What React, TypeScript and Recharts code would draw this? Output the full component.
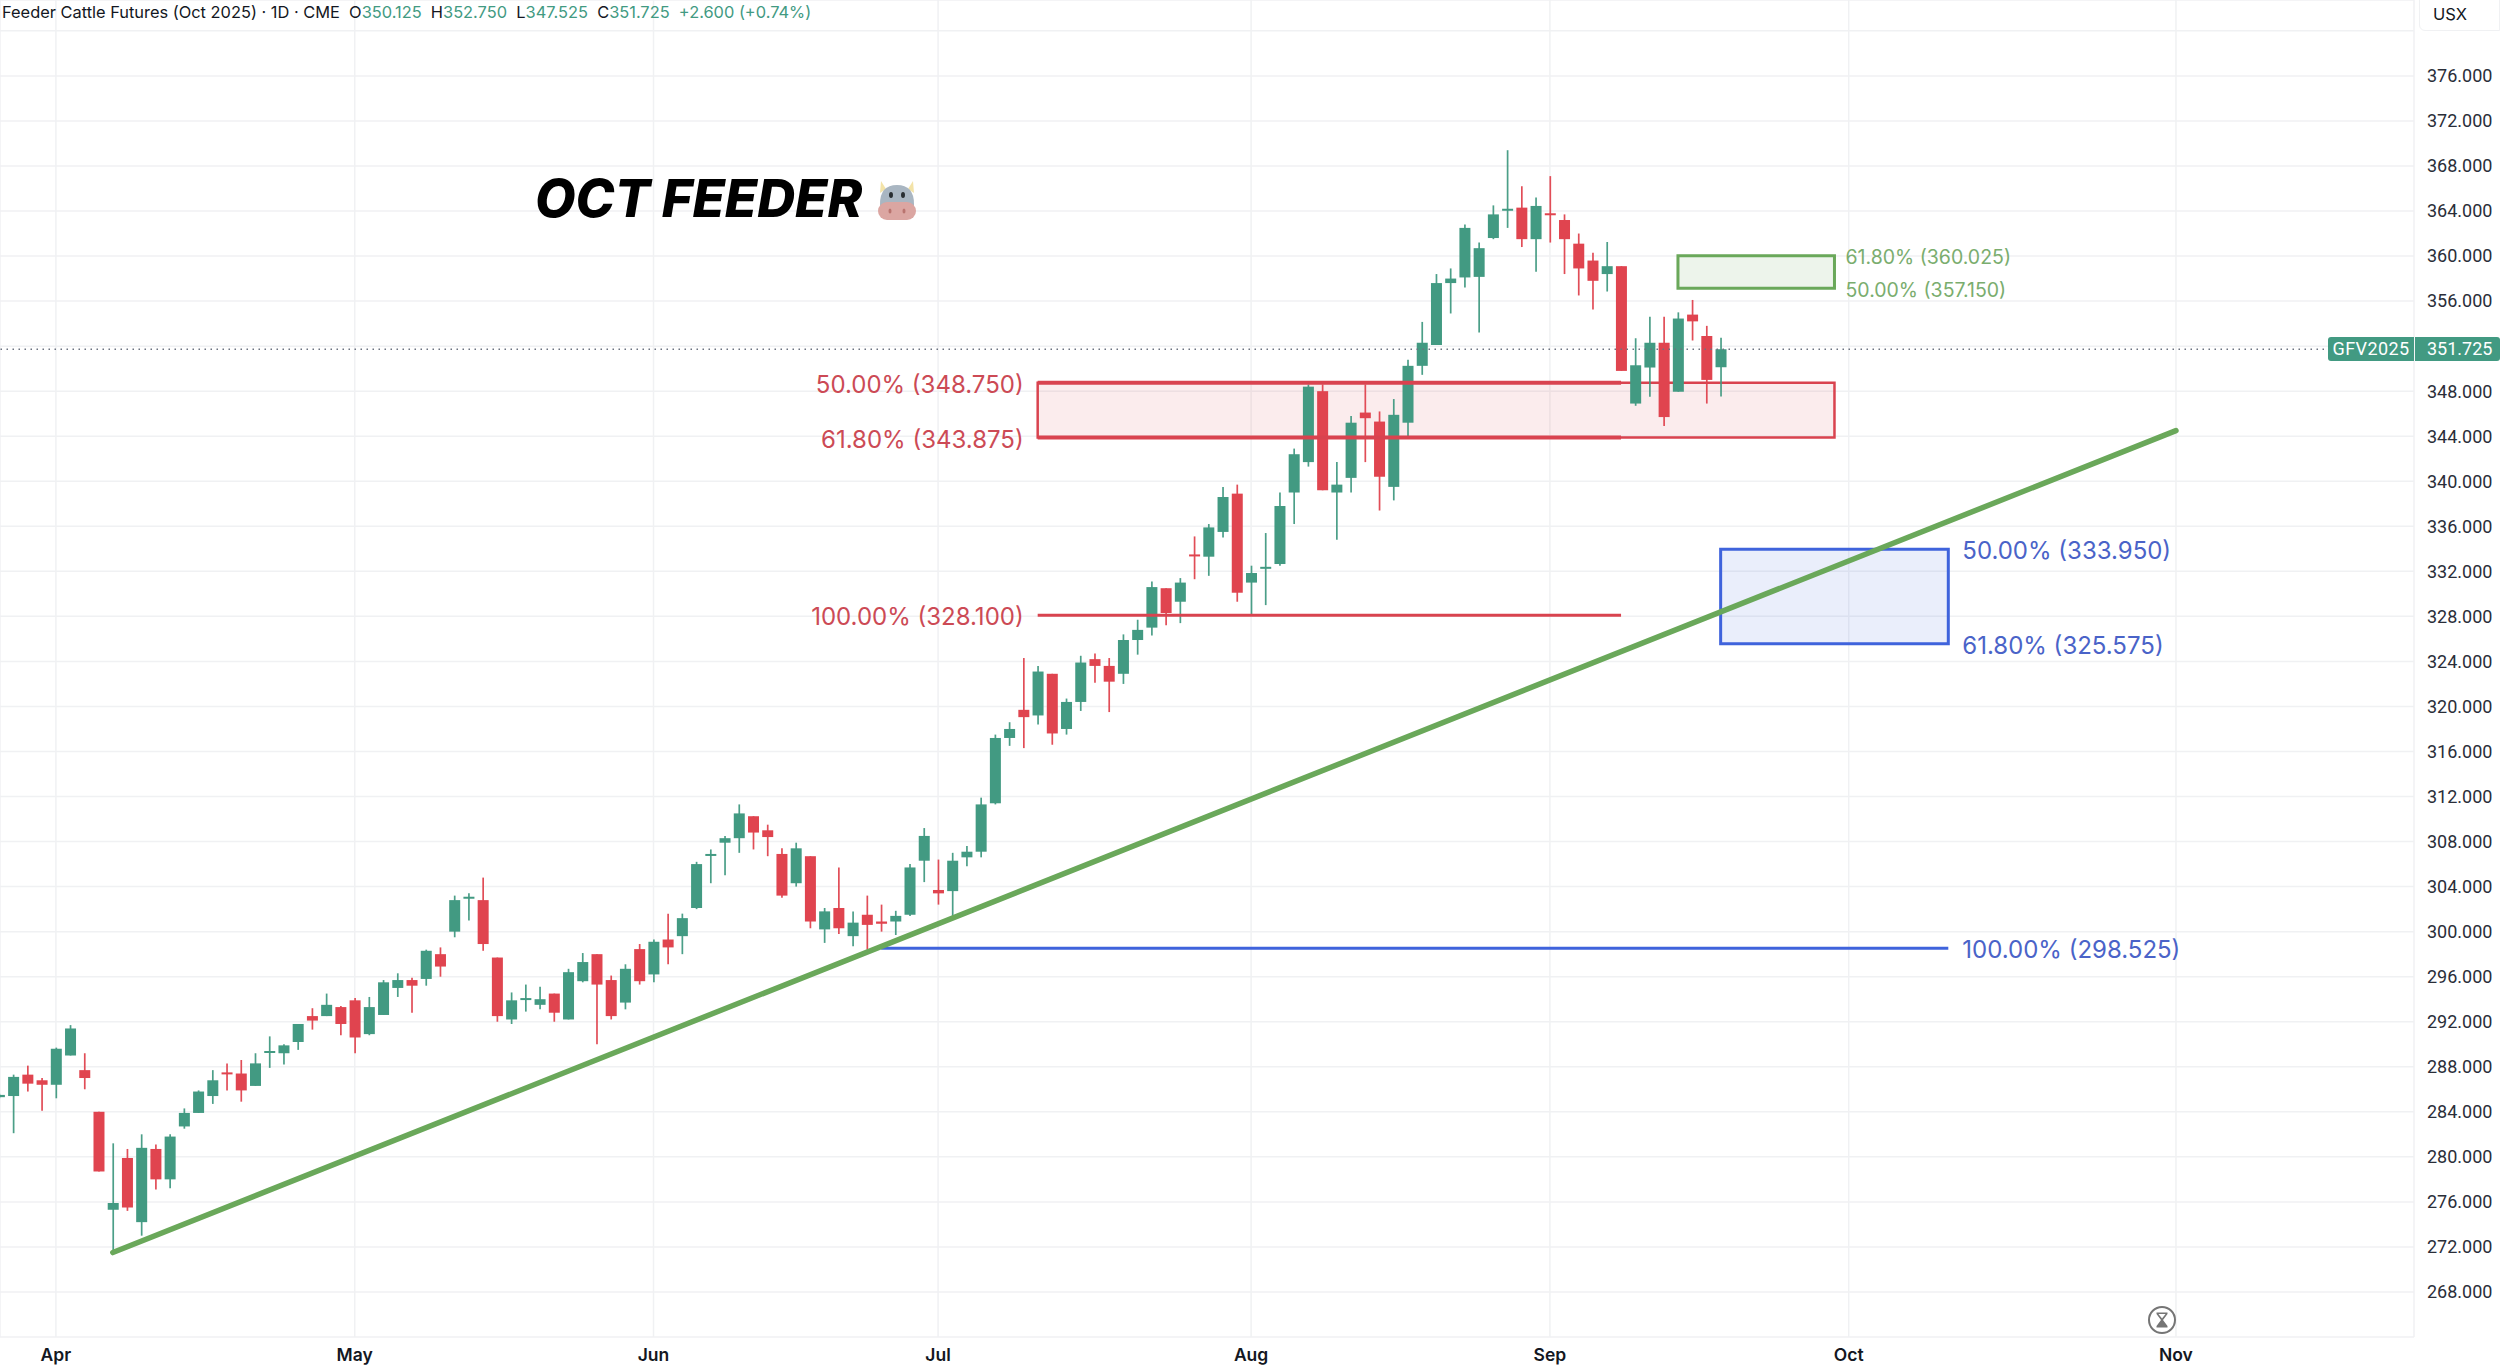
import React from 'react';
import { ComposedChart, Bar, XAxis, YAxis, CartesianGrid, ReferenceLine, ReferenceArea, ReferenceDot } from 'recharts';

const opens = [
  285.3,285.4,287.3,286.8,286.4,289.0,287.7,284.0,275.3,279.9,
  274.2,280.7,278.0,282.7,283.9,285.4,287.5,287.4,286.3,289.3,
  289.2,290.2,292.5,292.5,293.3,293.9,290.9,292.6,295.0,295.7,
  295.8,298.0,300.0,303.0,302.8,297.7,292.2,294.0,293.5,294.5,
  292.2,295.6,298.0,295.7,293.7,298.45,296.2,299.3,299.6,302.1,
  306.8,307.9,308.3,310.25,309.0,306.9,304.3,306.7,300.2,302.1,
  299.6,301.5,300.9,300.9,301.5,306.3,303.7,303.6,306.6,307.1,
  311.4,317.2,319.7,319.2,322.9,318.0,320.4,324.2,323.6,322.9,
  325.9,327.0,330.5,329.3,333.5,333.3,335.5,338.9,331.0,332.35,
  332.65,339.0,341.7,348.0,339.0,340.3,346.1,345.3,339.5,345.2,
  350.25,352.1,357.6,358.1,358.15,361.6,364.15,364.3,361.5,363.8,
  363.2,361.1,359.6,358.4,359.1,346.9,350.1,352.3,347.95,354.8,
  352.9,350.125,
];
const closes = [
  285.5,287.1,286.5,286.4,289.6,291.4,287.0,278.7,275.9,275.5,
  280.8,278.0,281.8,283.9,285.8,286.8,287.4,285.9,288.3,289.4,
  289.9,291.8,292.1,293.5,291.8,290.6,293.3,295.5,295.7,295.2,
  298.3,296.9,302.8,303.1,298.9,292.5,293.9,294.1,294.0,292.8,
  296.4,297.3,295.3,292.5,296.7,295.6,299.1,298.6,301.2,306.0,
  306.9,308.3,310.5,308.8,308.4,303.2,307.4,300.9,301.8,300.3,
  300.8,300.6,300.7,301.4,305.7,308.5,303.4,306.3,307.1,311.3,
  317.2,318.0,319.05,323.1,317.6,320.4,323.9,323.6,322.2,325.9,
  326.8,330.6,328.3,331.0,333.4,335.9,338.6,330.1,331.85,332.4,
  337.8,342.4,348.4,339.2,339.7,345.2,345.6,340.4,345.9,350.25,
  352.3,357.6,358.0,362.5,360.7,363.7,364.2,361.5,364.45,363.65,
  361.5,358.9,357.8,359.1,349.8,350.3,352.3,345.7,354.45,354.2,
  349.0,351.725,
];
const highs = [
  285.6,287.3,288.1,287.0,289.7,291.7,289.2,284.0,281.2,280.7,
  282.0,281.1,282.0,284.3,285.9,287.7,288.3,288.6,289.2,290.7,
  290.0,291.8,293.2,294.5,293.4,294.1,294.2,295.7,296.3,295.9,
  298.4,298.6,303.2,303.4,304.8,297.7,294.6,295.3,295.1,294.5,
  296.7,298.1,298.0,296.1,297.1,298.9,299.3,301.6,301.6,306.2,
  307.3,308.5,311.3,310.25,309.5,307.4,307.9,306.7,302.1,305.7,
  301.8,303.2,302.4,301.85,306.0,309.2,306.4,307.0,307.6,311.9,
  317.5,318.6,324.3,323.6,322.9,320.7,324.5,324.7,324.3,326.4,
  327.7,331.1,330.5,331.4,335.1,336.2,339.5,339.7,332.5,335.4,
  339.0,342.9,348.6,348.6,341.7,345.8,348.6,346.2,347.3,350.8,
  354.15,358.4,358.9,362.8,361.2,364.5,369.4,366.2,365.2,367.1,
  363.7,362.0,360.3,361.25,359.1,352.7,354.6,354.6,355.0,356.1,
  353.8,352.75,
];
const lows = [
  285.2,282.1,285.8,284.1,285.2,289.0,286.0,278.7,271.5,275.2,
  273.0,277.1,277.2,282.5,283.9,284.7,285.9,284.9,286.3,287.9,
  288.2,289.5,291.3,292.5,290.8,289.2,290.8,292.6,294.2,292.8,
  295.2,296.0,299.5,301.0,298.3,292.0,291.8,292.9,293.1,292.0,
  292.2,295.5,290.0,292.2,293.1,295.3,295.5,297.1,298.0,302.0,
  304.3,305.0,307.0,307.3,306.7,303.0,304.0,300.3,299.0,299.8,
  298.7,298.4,300.0,299.7,301.4,304.4,302.4,301.3,305.8,306.6,
  311.3,316.5,316.3,318.4,316.6,317.5,319.6,322.1,319.5,322.0,
  324.6,326.3,327.2,327.4,331.3,331.6,335.0,329.3,328.1,329.0,
  332.5,336.2,341.3,339.2,334.8,339.0,341.7,337.4,338.3,344.0,
  349.45,352.1,354.9,357.2,353.2,361.5,362.5,360.8,358.6,361.2,
  358.4,356.5,355.25,356.85,349.8,346.7,347.5,344.9,347.95,352.5,
  346.9,347.525,
];

const monthTicks = [4, 25, 46, 66, 88, 109, 130, 153];
const monthNames = ['Apr', 'May', 'Jun', 'Jul', 'Aug', 'Sep', 'Oct', 'Nov'];
const priceTicks = [268,272,276,280,284,288,292,296,300,304,308,312,316,320,324,328,332,336,340,344,348,352,356,360,364,368,372,376,380];

const UP = '#429a82';
const DOWN = '#e0444f';
const RED = '#d9434f';
const GREEN = '#6aa85a';
const BLUE = '#3f63dc';
const FONT = 'Inter, "Noto Sans", sans-serif';
const NUM_FONT = 'Roboto, Inter, sans-serif';

const table = opens.map((o, i) => ({ idx: i, open: o, close: closes[i], high: highs[i], low: lows[i], range: [lows[i], highs[i]] }));

function Candle(props: any) {
  const { x, y, width, height, payload } = props;
  const perUnit = height / (payload.high - payload.low);
  const top = Math.max(payload.open, payload.close);
  const bottom = Math.min(payload.open, payload.close);
  const bodyY = y + (payload.high - top) * perUnit;
  const bodyH = Math.max((top - bottom) * perUnit, 2);
  const fill = payload.close >= payload.open ? UP : DOWN;
  const cx = x + width / 2;
  return (
    <g>
      <line x1={cx} x2={cx} y1={y} y2={y + height} stroke={fill} strokeWidth={1.7} opacity={0.95} />
      <rect x={x} y={bodyY} width={width} height={bodyH} fill={fill} />
    </g>
  );
}

const lab = (value: string, position: string, fill: string, fontSize: number, offset: number) => ({
  value, position, fill, fontSize, offset, fontFamily: FONT, fontWeight: 400, dy: 1.5,
});

export default function App() {
  return (
    <div style={{ position: 'absolute', left: 0, top: 0, width: 2500, height: 1367, background: '#fff', overflow: 'hidden' }}>
      <ComposedChart width={2500} height={1367} data={table} margin={{ top: 0, right: 0, bottom: 0, left: 0 }}>
        <CartesianGrid stroke="#f0f1f3" strokeWidth={1.5} />
        <XAxis
          dataKey="idx"
          type="number"
          domain={[0.07, 169.73]}
          allowDataOverflow
          ticks={monthTicks}
          interval={0}
          height={30}
          tickLine={false}
          axisLine={false}
          tickSize={0}
          tickMargin={12}
          tick={{ fill: '#131722', fontSize: 17.5, fontWeight: 600, fontFamily: FONT }}
          tickFormatter={(v: number) => monthNames[monthTicks.indexOf(v)]}
        />
        <YAxis
          orientation="right"
          type="number"
          domain={[264.0, 382.74]}
          allowDataOverflow
          ticks={priceTicks}
          interval={0}
          width={86}
          tickLine={false}
          axisLine={false}
          tickSize={0}
          tickMargin={13}
          tick={{ fill: '#2a2e39', fontSize: 18, fontFamily: NUM_FONT, textAnchor: 'start' }}
          tickFormatter={(v: number) => (v === 380 ? '' : v.toFixed(3))}
        />
        <ReferenceLine y={351.725} stroke="#6b7280" strokeWidth={1.5} strokeDasharray="1.5 4.5" ifOverflow="visible" />
        <Bar dataKey="range" barSize={11} shape={Candle} isAnimationActive={false} />

        <ReferenceArea x1={73} x2={129} y1={343.875} y2={348.75} stroke={RED} strokeWidth={2.5} fill={RED} fillOpacity={0.1} />
        <ReferenceLine segment={[{ x: 73, y: 348.75 }, { x: 114, y: 348.75 }]} stroke={RED} strokeWidth={4} />
        <ReferenceLine segment={[{ x: 73, y: 343.875 }, { x: 114, y: 343.875 }]} stroke={RED} strokeWidth={4} />
        <ReferenceLine segment={[{ x: 73, y: 328.1 }, { x: 114, y: 328.1 }]} stroke={RED} strokeWidth={3} />
        <ReferenceArea x1={118} x2={129} y1={357.15} y2={360.025} stroke={GREEN} strokeWidth={3} fill={GREEN} fillOpacity={0.12} />
        <ReferenceArea x1={121} x2={137} y1={325.575} y2={333.95} stroke={BLUE} strokeWidth={3} fill={BLUE} fillOpacity={0.11} />
        <ReferenceLine segment={[{ x: 62, y: 298.525 }, { x: 137, y: 298.525 }]} stroke={BLUE} strokeWidth={3} />
        <ReferenceLine segment={[{ x: 8, y: 271.5 }, { x: 153, y: 344.5 }]} stroke={GREEN} strokeWidth={5.5} strokeLinecap="round" />

        <ReferenceDot x={73} y={348.75} r={0} ifOverflow="visible" label={lab('50.00% (348.750)', 'left', '#cc4a55', 24, 14)} />
        <ReferenceDot x={73} y={343.875} r={0} ifOverflow="visible" label={lab('61.80% (343.875)', 'left', '#cc4a55', 24, 14)} />
        <ReferenceDot x={73} y={328.1} r={0} ifOverflow="visible" label={lab('100.00% (328.100)', 'left', '#cc4a55', 24, 14)} />
        <ReferenceDot x={129} y={360.025} r={0} ifOverflow="visible" label={lab('61.80% (360.025)', 'right', '#7aad6e', 19.5, 11)} />
        <ReferenceDot x={129} y={357.15} r={0} ifOverflow="visible" label={lab('50.00% (357.150)', 'right', '#7aad6e', 19.5, 11)} />
        <ReferenceDot x={137} y={333.95} r={0} ifOverflow="visible" label={lab('50.00% (333.950)', 'right', '#4a63c8', 24, 14)} />
        <ReferenceDot x={137} y={325.575} r={0} ifOverflow="visible" label={lab('61.80% (325.575)', 'right', '#4a63c8', 24, 14)} />
        <ReferenceDot x={137} y={298.525} r={0} ifOverflow="visible" label={lab('100.00% (298.525)', 'right', '#4a63c8', 24, 14)} />
      </ComposedChart>

      <div style={{ position: 'absolute', left: 2, top: 0, height: 24, lineHeight: '24px', fontFamily: FONT, fontSize: 16.4, color: '#131722', whiteSpace: 'pre' }}>
        Feeder Cattle Futures (Oct 2025) · 1D · CME{'  '}O<span style={{ color: UP }}>350.125</span>{'  '}H<span style={{ color: UP }}>352.750</span>{'  '}L<span style={{ color: UP }}>347.525</span>{'  '}C<span style={{ color: UP }}>351.725</span>{'  '}<span style={{ color: UP }}>+2.600 (+0.74%)</span>
      </div>

      <div style={{ position: 'absolute', left: 535, top: 166, lineHeight: '64px', fontFamily: FONT, fontSize: 52.5, fontWeight: 800, fontStyle: 'italic', color: '#000', whiteSpace: 'pre' }}>
        OCT FEEDER
      </div>
      <svg style={{ position: 'absolute', left: 875, top: 180 }} width={44} height={42}>
        <path d="M6 1 L11 9 L5 13 Z M38 1 L33 9 L39 13 Z" fill="#f3e3a8" />
        <path d="M5 24 Q5 5 22 5 Q39 5 39 24 L39 26 L5 26 Z" fill="#a9b6c2" />
        <rect x={3} y={22} width={38} height={18} rx={9} fill="#dba6a2" />
        <ellipse cx={16} cy={15} rx={2} ry={3} fill="#292f33" />
        <ellipse cx={28} cy={15} rx={2} ry={3} fill="#292f33" />
        <ellipse cx={15} cy={31} rx={1.5} ry={2.6} fill="#b9746f" />
        <ellipse cx={29} cy={31} rx={1.5} ry={2.6} fill="#b9746f" />
      </svg>

      <div style={{ position: 'absolute', left: 2419, top: -1, width: 81, height: 32, boxSizing: 'border-box', border: '1px solid #f0f1f3', borderRadius: '0 0 0 6px', background: '#fff', fontFamily: FONT, fontSize: 16.5, color: '#131722', lineHeight: '28px', paddingLeft: 13 }}>
        USX
      </div>

      <div style={{ position: 'absolute', left: 2328, top: 337, width: 86, height: 24, background: UP, borderRadius: '3px 0 0 3px', color: '#fff', fontFamily: NUM_FONT, fontSize: 18, letterSpacing: 0.4, lineHeight: '24px', textAlign: 'center' }}>
        GFV2025
      </div>
      <div style={{ position: 'absolute', left: 2415, top: 337, width: 85, height: 24, background: UP, borderRadius: '0 3px 3px 0', color: '#fff', fontFamily: NUM_FONT, fontSize: 18, lineHeight: '24px', paddingLeft: 12, boxSizing: 'border-box' }}>
        351.725
      </div>

      <svg style={{ position: 'absolute', left: 2146, top: 1304 }} width={32} height={32}>
        <circle cx={16} cy={16} r={13} fill="#fff" stroke="#757575" strokeWidth={2} />
        <path d="M10.5 8.5 H21.5 L21.5 10 L17 16 L21.5 22 L21.5 23.5 H10.5 L10.5 22 L15 16 L10.5 10 Z" fill="#757575" />
        <path d="M12.5 10 H19.5 L16 14.5 Z" fill="#fff" />
      </svg>
    </div>
  );
}
